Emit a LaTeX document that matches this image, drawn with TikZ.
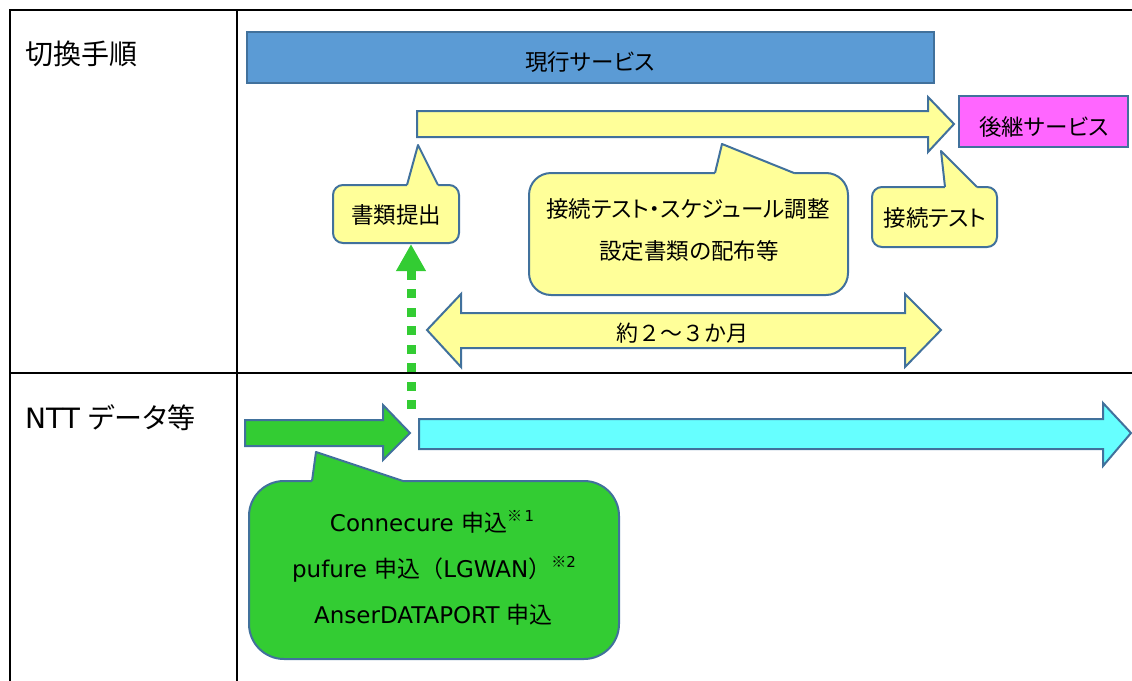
\documentclass[tikz,border=0pt]{standalone}
\usepackage{fontspec}
\setmainfont{DejaVu Sans}
\newfontfamily\jp[RawFeature=+palt]{Noto Sans CJK JP}
\newfontfamily\jpf{Noto Sans CJK JP}
\usetikzlibrary{arrows.meta}
\definecolor{edgec}{HTML}{41719C}
\definecolor{barblue}{HTML}{5B9BD5}
\definecolor{pale}{HTML}{FFFF99}
\definecolor{pink}{HTML}{FF66FF}
\definecolor{grn}{HTML}{33CC33}
\definecolor{aqua}{HTML}{66FFFF}
\begin{document}
\begin{tikzpicture}[x=1pt,y=-1pt,
  every node/.style={inner sep=0pt},
  body/.style={font=\jp\fontsize{22.5}{26}\selectfont},
  gbody/.style={font=\fontsize{23}{27}\selectfont, anchor=base},
  head/.style={font=\fontsize{28}{32}\selectfont, anchor=west},
  box/.style={draw=edgec, line width=2pt},
  arrowshape/.style={draw=edgec, line width=2pt, line join=miter},
  ptr/.style={draw=edgec, line width=2pt, line join=round},
  rule/.style={line width=2pt, black},
  dotarrow/.style={grn, line width=9pt, dash pattern=on 9pt off 9.5pt,
    -{Triangle[length=27pt 0 0, width=28pt 0 0]}}
]
\useasboundingbox (0,0) rectangle (1132,680);
% table
\draw[rule, line width=2.5pt] (10,681) -- (10,10) -- (1133,10);
\draw[rule] (237,10) -- (237,681);
\draw[rule] (10,373) -- (1133,373);
\node[head] (h1) at (25,54) {\jp 切換手順};
\node[head] (h2) at (25,418) {NTT {\jp データ等}};

% current service bar
\node[box, fill=barblue, minimum width=687pt, minimum height=51pt] (cur) at (590.5,57.5) {};
\node[body] (curtxt) at (590,62.5) {現行サービス};

% yellow arrow
\draw[arrowshape, fill=pale] (417,111) -- (928,111) -- (928,97) -- (954,124) -- (928,152) -- (928,137) -- (417,137) -- cycle;

% next service
\node[box, fill=pink, minimum width=169pt, minimum height=51pt] (next) at (1043.5,121.5) {};
\node[body] (nexttxt) at (1044,127) {後継サービス};

% callout: documents
\node[box, fill=pale, rounded corners=10pt, minimum width=126pt, minimum height=58pt] (docs) at (396,214) {};
\fill[pale] (407,188) -- (407,185) -- (418,145) -- (438,185) -- (438,188) -- cycle;
\draw[ptr] (407,185) -- (418,145) -- (438,185);
\node[body] (docstxt) at (396,215) {書類提出};

% callout: plan
\node[box, fill=pale, rounded corners=22pt, minimum width=319pt, minimum height=122pt] (plan) at (688.5,234) {};
\fill[pale] (715,176) -- (715,173) -- (722,144) -- (794,173) -- (794,176) -- cycle;
\draw[ptr] (715,173) -- (722,144) -- (794,173);
\node[body] (plan1) at (688,209) {接続テスト・スケジュール調整};
\node[body] (plan2) at (689,251) {設定書類の配布等};

% callout: test
\node[box, fill=pale, rounded corners=10pt, minimum width=125pt, minimum height=60pt] (test) at (934.5,217) {};
\fill[pale] (945,190) -- (945,187) -- (941,151) -- (977,187) -- (977,190) -- cycle;
\draw[ptr] (945,187) -- (941,151) -- (977,187);
\node[body] (testtxt) at (935,218) {接続テスト};

% double arrow
\draw[arrowshape, fill=pale] (427,330) -- (461,294) -- (461,313) -- (905,313) -- (905,294) -- (941,330) -- (905,367) -- (905,348) -- (461,348) -- (461,367) -- cycle;
\node[body, font=\jpf\fontsize{22}{26}\selectfont] (period) at (682,333) {約２～３か月};

% NTT row arrows
\draw[arrowshape, fill=grn] (245,420) -- (383,420) -- (383,405) -- (410,433) -- (383,460) -- (383,446) -- (245,446) -- cycle;
\draw[arrowshape, fill=aqua] (419,419) -- (1103,419) -- (1103,403) -- (1131,433) -- (1103,466) -- (1103,449) -- (419,449) -- cycle;

% dotted green arrow
\coordinate (dotstart) at (411,409);
\draw[dotarrow] (dotstart) -- (dotstart |- docs.south);

% green callout
\node[box, fill=grn, rounded corners=35pt, minimum width=370pt, minimum height=178pt] (apply) at (434,570) {};
\fill[grn] (312,484) -- (312,481) -- (316,452) -- (403,481) -- (403,484) -- cycle;
\draw[ptr] (312,481) -- (316,452) -- (403,481);
\node[gbody] (a1) at (432,531) {Connecure {\jp 申込}\raisebox{10pt}{\fontsize{15}{15}\selectfont{\jpf ※}\,1}};
\node[gbody] (a2) at (434,577) {pufure {\jp 申込}{\jpf （}LGWAN{\jpf ）}\raisebox{10pt}{\fontsize{15}{15}\selectfont{\jpf ※}2}};
\node[gbody] (a3) at (433.5,623) {AnserDATAPORT {\jp 申込}};
\end{tikzpicture}
\end{document}
